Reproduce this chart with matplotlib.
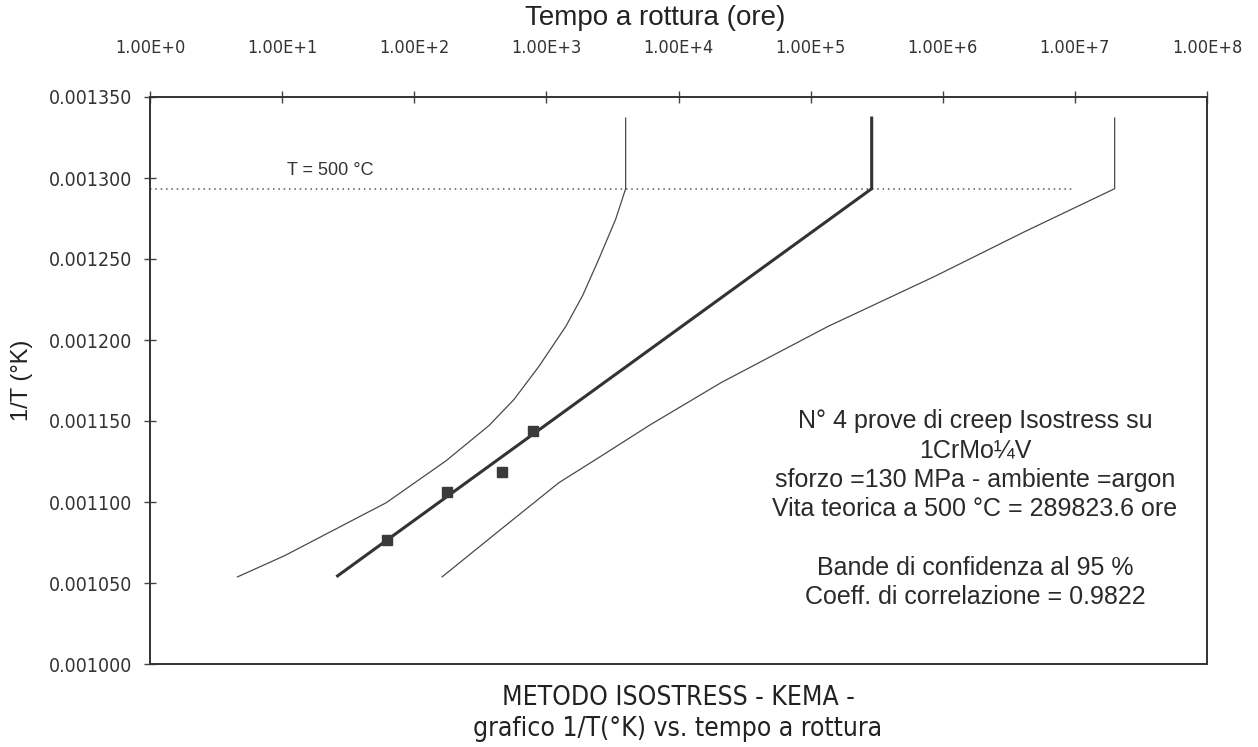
import matplotlib
matplotlib.use("Agg")
import matplotlib.pyplot as plt
from matplotlib.ticker import NullLocator, FixedLocator
from matplotlib import font_manager as fm

# ---- data ----
x_ticks = [1e0, 1e1, 1e2, 1e3, 1e4, 1e5, 1e6, 1e7, 1e8]
x_tick_labels = ["1.00E+0", "1.00E+1", "1.00E+2", "1.00E+3", "1.00E+4",
                 "1.00E+5", "1.00E+6", "1.00E+7", "1.00E+8"]
y_ticks = [0.001000, 0.001050, 0.001100, 0.001150, 0.001200, 0.001250,
           0.001300, 0.001350]

# test points (rupture time h, 1/T)
pts_t = [62.5, 177, 461, 791]
pts_invT = [0.0010767, 0.0011064, 0.0011187, 0.0011441]

# regression line
reg_t = [26.3, 289823.6, 289823.6]
reg_invT = [0.0010544, 0.0012934, 0.001337]

# lower confidence band (left)
low_t = [4.6, 10.4, 23.2, 61.5, 174.5, 368, 569, 878, 1403, 1885,
         2490, 3347, 3981, 3981]
low_invT = [0.0010538, 0.0010668, 0.0010816, 0.0010996, 0.0011255, 0.0011472,
            0.0011633, 0.0011837, 0.0012084, 0.0012276, 0.0012498, 0.0012746,
            0.0012934, 0.001337]

# upper confidence band (right)
up_t = [162.6, 438, 1243, 2490, 6150, 21130, 135500, 870900, 4.08e6,
        2.0e7, 2.0e7]
up_invT = [0.0010538, 0.0010822, 0.0011119, 0.0011274, 0.0011478, 0.0011738,
           0.0012084, 0.0012393, 0.0012665, 0.0012934, 0.001337]

# T = 500 degC line
t500_t = [1.0, 1.0e7]
t500_invT = [1 / 773.15, 1 / 773.15]

info_lines = [
    "N° 4 prove di creep Isostress su",
    "1CrMo¼V",
    "sforzo =130 MPa - ambiente =argon",
    "Vita teorica a 500 °C = 289823.6 ore",
    "",
    "Bande di confidenza al 95 %",
    "Coeff. di correlazione = 0.9822",
]

# ---- fonts ----
font = "Liberation Sans"


def pick_narrow():
    for fam, stretch in (("Liberation Sans Narrow", "normal"),
                         ("DejaVu Sans", "condensed")):
        try:
            path = fm.findfont(fm.FontProperties(family=fam, stretch=stretch),
                               fallback_to_default=False)
            if fam == "Liberation Sans Narrow" or "Condensed" in path:
                return fam, stretch
        except Exception:
            pass
    return None, None


narrow_fam, narrow_stretch = pick_narrow()

# ---- figure ----
W, H = 1258, 747
fig = plt.figure(figsize=(W / 100, H / 100), dpi=100)
ax = fig.add_axes([150 / W, 1 - 664 / H, (1207 - 150) / W, (664 - 97) / H])

ax.plot(t500_t, t500_invT, linestyle=(0, (1, 2.5)), color="#555555", lw=1.1)
ax.plot(low_t, low_invT, color="#4a4a4a", lw=0.9, solid_joinstyle="round")
ax.plot(up_t, up_invT, color="#4a4a4a", lw=0.9, solid_joinstyle="round")
ax.plot(reg_t, reg_invT, color="#333333", lw=2.2, solid_joinstyle="miter")
ax.plot(pts_t, pts_invT, linestyle="none", marker="s", markersize=7,
        color="#3a3a3a")

ax.set_xscale("log")
ax.set_xlim(1, 1e8)
ax.set_ylim(0.001, 0.00135)

ax.xaxis.tick_top()
ax.xaxis.set_major_locator(FixedLocator(x_ticks))
ax.xaxis.set_minor_locator(NullLocator())
ax.set_xticklabels(x_tick_labels)
ax.set_yticks(y_ticks)
ax.set_yticklabels(["%.6f" % v for v in y_ticks])

if narrow_fam:
    nkw = dict(family=narrow_fam, stretch=narrow_stretch)
    xs, ys, bs = 13, 14, 19
else:
    nkw = dict(family=font)
    xs, ys, bs = 12, 13, 16
for lab in ax.get_xticklabels():
    lab.set_fontfamily(nkw["family"])
    if "stretch" in nkw:
        lab.set_fontstretch(nkw["stretch"])
    lab.set_fontsize(xs)
    lab.set_color("#333333")
for lab in ax.get_yticklabels():
    lab.set_fontfamily(nkw["family"])
    if "stretch" in nkw:
        lab.set_fontstretch(nkw["stretch"])
    lab.set_fontsize(ys)
    lab.set_color("#333333")

ax.tick_params(axis="both", direction="inout", length=9, width=1.0,
               color="#444444")
ax.tick_params(axis="x", pad=24)
ax.tick_params(axis="y", pad=8)
for s in ax.spines.values():
    s.set_color("#333333")
    s.set_linewidth(1.4)

fig.text(22 / W, 1 - 380 / H, "1/T (°K)", rotation=90, ha="center",
         va="center", fontsize=17, family=font, color="#222222")

fig.text(655 / W, 1 - 18 / H, "Tempo a rottura (ore)", ha="center",
         va="center", fontsize=20, family=font, color="#222222")

ax.text(23.2, 0.0013045, "T = 500 °C", ha="center", va="center",
        fontsize=13, family=font, color="#333333")

ax.text((975 - 150) / 1057, (664 - 509) / 567, "\n".join(info_lines),
        transform=ax.transAxes, ha="center", va="center", fontsize=18,
        family=font, color="#2a2a2a", linespacing=1.28)

fig.text(678 / W, 1 - 698 / H, "METODO ISOSTRESS - KEMA -",
         ha="center", va="center", color="#222222", fontsize=bs, **nkw)
fig.text(678 / W, 1 - 729 / H, "grafico 1/T(°K) vs. tempo a rottura",
         ha="center", va="center", color="#222222", fontsize=bs, **nkw)

fig.savefig("out.png", dpi=100, facecolor="white")
